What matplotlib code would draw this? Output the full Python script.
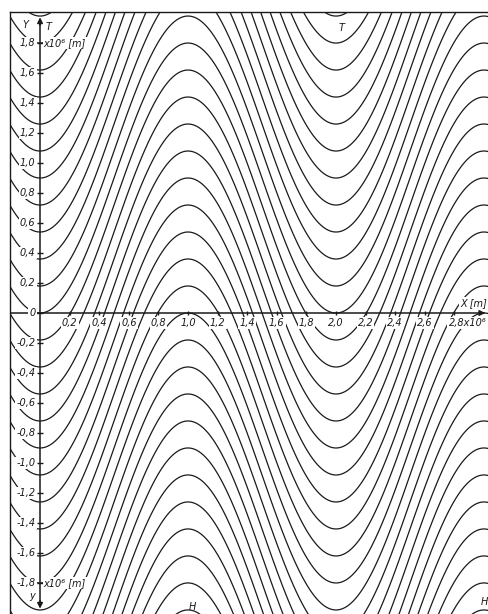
import numpy as np
import matplotlib.pyplot as plt

# wave field parameters (units of 10^6 m)
wavelength = 2.0
amplitude = 0.9
line_spacing = 0.18

# tick values and labels
x_ticks = [0.2, 0.4, 0.6, 0.8, 1.0, 1.2, 1.4, 1.6, 1.8, 2.0, 2.2, 2.4, 2.6]
x_labels = ["0,2", "0,4", "0,6", "0,8", "1,0", "1,2", "1,4", "1,6", "1,8", "2,0", "2,2", "2,4", "2,6"]
y_ticks = [1.6, 1.4, 1.2, 1.0, 0.8, 0.6, 0.4, 0.2, 0.0,
           -0.2, -0.4, -0.6, -0.8, -1.0, -1.2, -1.4, -1.6]
y_labels = ["1,6", "1,4", "1,2", "1,0", "0,8", "0,6", "0,4", "0,2", "0",
            "-0,2", "-0,4", "-0,6", "-0,8", "-1,0", "-1,2", "-1,4", "-1,6"]

ink = "#1a1a1a"
fs = 7

fig = plt.figure(figsize=(4.88, 6.14), dpi=100)
ax = fig.add_axes([10 / 488, 0, 478 / 488, 1 - 12 / 614])
ax.set_xlim(-0.203, 3.027)
ax.set_ylim(-2.007, 2.007)

# streamline field
xx = np.linspace(-0.3, 3.1, 700)
yy = np.linspace(-2.1, 2.1, 900)
X, Y = np.meshgrid(xx, yy)
psi = Y + amplitude * np.cos(2 * np.pi * X / wavelength)
levels = np.arange(-18, 19) * line_spacing
ax.contour(X, Y, psi, levels=levels, colors=ink, linewidths=0.9,
           linestyles="solid")

# frame: only left and top visible
for s in ["right", "bottom"]:
    ax.spines[s].set_visible(False)
for s in ["left", "top"]:
    ax.spines[s].set_color(ink)
    ax.spines[s].set_linewidth(1.0)
ax.set_xticks([])
ax.set_yticks([])

# coordinate axes with arrows
ax.plot([-0.203, 3.0], [0, 0], color=ink, lw=1.1)
ax.plot([0, 0], [-1.95, 1.95], color=ink, lw=1.1)
arrow = dict(arrowstyle="-|>", color=ink, lw=1.1, mutation_scale=8)
ax.annotate("", xy=(3.027, 0), xytext=(2.95, 0), arrowprops=arrow)
ax.annotate("", xy=(0, 1.99), xytext=(0, 1.9), arrowprops=arrow)
ax.annotate("", xy=(0, -1.99), xytext=(0, -1.9), arrowprops=arrow)

# tick marks
ax.plot(x_ticks + [2.8], [0] * (len(x_ticks) + 1), "|", color=ink, ms=3, mew=1)
ax.plot([0] * (len(y_ticks) + 2), y_ticks + [1.8, -1.8], "_", color=ink, ms=5, mew=1)

box = dict(facecolor="white", edgecolor="none", pad=0.8)
for xv, lab in zip(x_ticks, x_labels):
    ax.text(xv, -0.035, lab, ha="center", va="top", fontsize=fs,
            style="italic", color=ink, bbox=box)
ax.text(2.76, -0.035, "2,8x10⁶", ha="left", va="top", fontsize=fs,
        style="italic", color=ink, bbox=box)
ax.text(2.84, 0.03, "X [m]", ha="left", va="bottom", fontsize=fs,
        style="italic", color=ink, bbox=box)

for yv, lab in zip(y_ticks, y_labels):
    ax.text(-0.03, yv, lab, ha="right", va="center", fontsize=fs,
            style="italic", color=ink, bbox=box)
ax.text(-0.03, 1.8, "1,8", ha="right", va="center", fontsize=fs,
        style="italic", color=ink, bbox=box)
ax.text(0.025, 1.8, "x10⁶ [m]", ha="left", va="center", fontsize=fs,
        style="italic", color=ink, bbox=box)
ax.text(-0.03, -1.8, "-1,8", ha="right", va="center", fontsize=fs,
        style="italic", color=ink, bbox=box)
ax.text(0.025, -1.8, "x10⁶ [m]", ha="left", va="center", fontsize=fs,
        style="italic", color=ink, bbox=box)

# letters on the field
ax.text(-0.10, 1.92, "Y", ha="center", va="center", fontsize=fs, style="italic", color=ink)
ax.text(0.055, 1.91, "T", ha="center", va="center", fontsize=fs, style="italic", color=ink)
ax.text(-0.055, -1.89, "y", ha="center", va="center", fontsize=fs, style="italic", color=ink)
ax.text(2.04, 1.90, "T", ha="center", va="center", fontsize=fs, style="italic", color=ink)
ax.text(1.03, -1.96, "H", ha="center", va="center", fontsize=fs, style="italic", color=ink)
ax.text(3.0, -1.93, "H", ha="center", va="center", fontsize=fs, style="italic", color=ink)

fig.savefig("out.png", dpi=100, facecolor="white")
